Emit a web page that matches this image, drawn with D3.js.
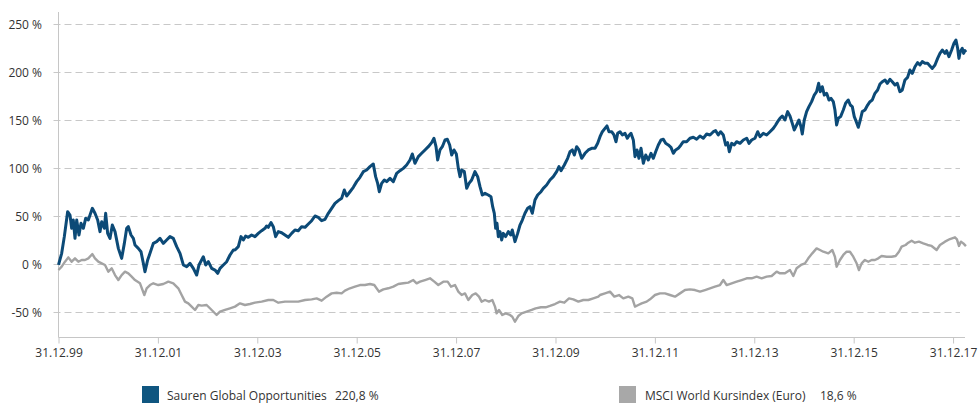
<!DOCTYPE html>
<html>
<head>
<meta charset="utf-8">
<script src="https://cdn.jsdelivr.net/npm/d3@7"></script>
<style>
  html, body { margin: 0; padding: 0; background: #fff; }
  svg { display: block; font-family: "Open Sans", "Noto Sans", sans-serif; }
</style>
</head>
<body>
<svg id="chart" width="979" height="403"></svg>
<script>
// Time in years since 31.12.1999, value in % performance
const sauren = [
[0,-1],[0.064,11.1],[0.117,28.5],[0.184,54.5],[0.231,51],[0.265,37.2],[0.298,45.8],[0.332,26.7],[0.366,45.8],[0.412,30.2],[0.453,42.4],[0.5,37.2],[0.547,47.6],[0.6,45.8],[0.681,58],[0.734,52.8],[0.788,45.8],[0.835,33.7],[0.869,44.1],[0.922,37.2],[0.949,52.8],[0.989,31.9],[1.036,26.7],[1.083,40.6],[1.137,33.7],[1.204,16.3],[1.271,5.9],[1.325,21.5],[1.372,37.2],[1.405,38.9],[1.459,30.2],[1.506,26.7],[1.539,19.8],[1.606,16.3],[1.66,12.8],[1.707,0.7],[1.74,-8],[1.794,4.2],[1.841,11.1],[1.908,21.5],[1.975,23.3],[2.042,26.7],[2.109,21.5],[2.176,25],[2.243,28.5],[2.31,26.7],[2.378,18.1],[2.445,11.1],[2.512,-1],[2.579,-2.8],[2.646,0.7],[2.713,-4.5],[2.78,-11.5],[2.827,-1],[2.914,7.6],[2.961,-1],[3.015,2.4],[3.082,-4.5],[3.149,-6.3],[3.203,-9.7],[3.25,-4.5],[3.317,-1],[3.384,2.4],[3.451,9.4],[3.518,14.6],[3.551,14.6],[3.618,18.1],[3.672,28.5],[3.719,25],[3.766,29.2],[3.819,27.8],[3.886,30.2],[3.953,28.5],[4.02,31.9],[4.088,34.7],[4.155,37.2],[4.188,39.6],[4.222,38.2],[4.275,43.1],[4.322,38.9],[4.369,28.5],[4.423,33.7],[4.49,32.6],[4.557,30.2],[4.624,27.8],[4.691,31.9],[4.758,35.4],[4.825,34.7],[4.892,38.9],[4.96,38.2],[5.027,41.7],[5.094,45.1],[5.161,50],[5.228,48.6],[5.295,45.1],[5.362,46.5],[5.429,52.8],[5.496,58],[5.563,63.2],[5.63,66],[5.697,68.4],[5.751,77.1],[5.798,70.8],[5.865,75.3],[5.932,79.9],[5.999,85.8],[6.066,90.3],[6.133,96.2],[6.2,97.9],[6.267,101.4],[6.334,104.2],[6.381,91],[6.422,84],[6.455,75.3],[6.502,84],[6.556,87.5],[6.603,85.8],[6.67,89.2],[6.737,85.8],[6.804,94.4],[6.871,97.2],[6.938,99.6],[7.005,103.1],[7.072,108.3],[7.119,114.6],[7.173,104.9],[7.24,111.8],[7.307,115.3],[7.374,118.8],[7.441,122.2],[7.508,126.4],[7.555,130.9],[7.596,122.2],[7.629,108.3],[7.676,118.8],[7.723,122.2],[7.777,129.2],[7.824,129.9],[7.871,124],[7.911,113.5],[7.958,118.8],[8.005,114.6],[8.045,99.6],[8.079,91],[8.112,97.9],[8.166,96.2],[8.213,78.8],[8.26,84],[8.313,87.5],[8.38,96.2],[8.434,91],[8.481,80.6],[8.528,71.9],[8.582,73.6],[8.648,71.9],[8.702,70.1],[8.736,59.7],[8.769,52.8],[8.796,37.2],[8.823,42.4],[8.85,28.5],[8.883,33.7],[8.917,25],[8.95,31.9],[8.997,28.5],[9.051,33.7],[9.098,30.2],[9.131,35.4],[9.185,23.3],[9.239,31.9],[9.286,40.6],[9.333,45.8],[9.386,52.8],[9.44,58],[9.487,59.7],[9.534,52.8],[9.587,66.7],[9.641,71.9],[9.708,75.3],[9.755,78.8],[9.822,82.3],[9.889,87.5],[9.956,91],[10.023,96.2],[10.07,101.4],[10.111,97.2],[10.178,103.1],[10.245,110.1],[10.292,117],[10.339,118.8],[10.379,113.5],[10.426,122.2],[10.473,118.8],[10.527,110.1],[10.594,115.3],[10.661,118.8],[10.728,120.5],[10.795,120.5],[10.849,125.7],[10.896,132.6],[10.943,137.8],[10.996,141.3],[11.036,143.8],[11.077,137.8],[11.13,137.8],[11.177,134.4],[11.218,127.4],[11.251,136.1],[11.298,137.8],[11.345,134.4],[11.399,136.1],[11.446,131],[11.486,134.4],[11.519,136.1],[11.566,129.2],[11.6,111.8],[11.64,118.8],[11.68,110.1],[11.721,120.5],[11.768,104.9],[11.815,113.5],[11.868,108.3],[11.922,115.3],[11.969,110.1],[12.016,117],[12.069,124],[12.123,129.2],[12.17,129.9],[12.217,125.7],[12.27,124],[12.324,121.5],[12.371,115.3],[12.418,118.8],[12.471,120.5],[12.525,124],[12.572,127.4],[12.639,127.4],[12.706,131],[12.773,132],[12.84,129.9],[12.907,133.3],[12.974,131],[13.042,135.4],[13.109,134.4],[13.176,137.8],[13.223,138.9],[13.276,134.4],[13.323,137.8],[13.377,134.4],[13.424,124],[13.464,126.4],[13.498,117],[13.545,125.7],[13.598,124],[13.645,127.4],[13.712,125.7],[13.78,129.2],[13.847,131],[13.894,125.7],[13.947,129.2],[14.014,131],[14.068,137.8],[14.115,132.6],[14.182,136.1],[14.249,134.4],[14.316,137.8],[14.383,141.3],[14.43,144.8],[14.47,148.3],[14.517,151.8],[14.564,154.2],[14.617,150],[14.671,158.7],[14.718,154.2],[14.765,146.5],[14.805,139.6],[14.852,144.8],[14.899,150],[14.939,143.1],[14.966,135.4],[15.006,150],[15.053,158.7],[15.1,163.9],[15.154,169.1],[15.207,176],[15.254,179.5],[15.295,188.2],[15.328,179.5],[15.368,184.7],[15.409,176],[15.456,177.8],[15.503,170.8],[15.543,172.6],[15.59,169.1],[15.623,160.4],[15.657,144.8],[15.69,151.8],[15.737,153.5],[15.791,160.4],[15.838,167.4],[15.891,170.8],[15.932,165.6],[15.972,163.9],[16.012,153.5],[16.052,148.3],[16.093,142.4],[16.133,150],[16.173,158.7],[16.227,160.4],[16.281,165.6],[16.328,169.1],[16.374,170.8],[16.428,177.8],[16.482,181.3],[16.529,187.5],[16.576,189.9],[16.63,191.7],[16.676,188.2],[16.73,192.4],[16.777,189.9],[16.831,186.5],[16.878,188.2],[16.931,179.5],[16.978,181.3],[17.032,191.7],[17.085,194.4],[17.132,202.1],[17.179,198.6],[17.233,205.5],[17.287,209.7],[17.334,207.3],[17.38,210.8],[17.434,209],[17.488,209],[17.535,206.3],[17.582,203.8],[17.636,207.3],[17.689,214.2],[17.736,219.4],[17.783,222.9],[17.837,219.4],[17.87,222.2],[17.917,216],[17.971,222.9],[18.018,229.9],[18.058,233.3],[18.092,224.7],[18.118,214.2],[18.145,221.2],[18.185,224.7],[18.212,219.4],[18.239,222.2],[18.259,220.8]
];
const msci = [
[0,-6.25],[0.064,-2.8],[0.131,2.4],[0.198,6.9],[0.265,2.4],[0.332,5.9],[0.399,2.4],[0.466,4.2],[0.533,4.2],[0.6,5.9],[0.681,10.4],[0.734,5.9],[0.801,2.4],[0.869,0.7],[0.936,-1],[1.003,-8],[1.07,-4.5],[1.137,-11.5],[1.204,-16.7],[1.271,-11.5],[1.338,-8],[1.405,-9.7],[1.472,-13.2],[1.539,-16.7],[1.64,-20.1],[1.727,-32.3],[1.774,-25.3],[1.841,-21.9],[1.908,-20.1],[2.008,-21.9],[2.109,-20.8],[2.21,-18.4],[2.31,-20.1],[2.411,-25.3],[2.478,-32.3],[2.545,-39.2],[2.612,-41],[2.679,-44.4],[2.747,-47.9],[2.814,-42.7],[2.881,-43.4],[2.981,-42.7],[3.082,-47.9],[3.182,-53.1],[3.249,-49.7],[3.35,-47.9],[3.451,-46.2],[3.551,-44.4],[3.652,-41],[3.752,-42.7],[3.853,-41.7],[3.953,-40.3],[4.088,-39.2],[4.222,-37.5],[4.322,-37.5],[4.423,-40.3],[4.557,-39.2],[4.691,-39.2],[4.825,-39.2],[4.96,-37.5],[5.094,-36.8],[5.194,-35.8],[5.295,-38.2],[5.395,-34],[5.496,-30.6],[5.597,-29.9],[5.697,-30.6],[5.764,-27.8],[5.865,-25.3],[5.965,-23.6],[6.066,-21.9],[6.167,-21.9],[6.267,-20.8],[6.354,-21.9],[6.448,-28.8],[6.536,-26.4],[6.636,-25.3],[6.737,-23.6],[6.837,-20.8],[6.938,-20.1],[7.039,-19.4],[7.139,-16.7],[7.206,-20.1],[7.274,-18.4],[7.374,-16.7],[7.475,-14.9],[7.562,-18.4],[7.642,-21.9],[7.743,-18.4],[7.83,-18.4],[7.897,-23.6],[7.978,-21.9],[8.045,-28.8],[8.112,-32.3],[8.179,-30.6],[8.246,-37.5],[8.326,-32.3],[8.394,-30.6],[8.461,-34],[8.514,-39.2],[8.582,-37.5],[8.662,-39.2],[8.729,-37.5],[8.783,-44.4],[8.816,-51.4],[8.863,-47.9],[8.93,-53.1],[8.997,-51.4],[9.084,-53.1],[9.131,-54.9],[9.185,-60.1],[9.252,-54.2],[9.319,-51.4],[9.42,-49.7],[9.52,-47.9],[9.601,-46.2],[9.708,-45.1],[9.802,-45.1],[9.889,-43.7],[9.99,-41.7],[10.09,-39.2],[10.178,-40.3],[10.272,-35.8],[10.359,-36.8],[10.46,-39.2],[10.56,-37.5],[10.661,-37.5],[10.761,-35.8],[10.862,-34],[10.896,-32.3],[10.996,-30.6],[11.097,-28.8],[11.184,-34],[11.278,-32.3],[11.365,-35.8],[11.466,-34],[11.546,-35.8],[11.6,-44.4],[11.667,-42.7],[11.734,-41],[11.835,-39.2],[11.902,-36.8],[12.002,-32.3],[12.103,-30.6],[12.203,-30.6],[12.304,-32.3],[12.405,-34],[12.505,-30.6],[12.606,-27.1],[12.706,-26.4],[12.807,-27.1],[12.908,-28.8],[13.008,-27.1],[13.109,-25.3],[13.209,-23.6],[13.31,-21.9],[13.377,-16.7],[13.444,-21.9],[13.545,-20.1],[13.645,-18.4],[13.746,-16.7],[13.847,-14.9],[13.947,-14.9],[14.048,-13.2],[14.149,-14.9],[14.249,-13.2],[14.35,-12.5],[14.45,-8],[14.517,-9.7],[14.617,-9.7],[14.718,-6.25],[14.785,-12.5],[14.852,-4.5],[14.939,-1],[15.02,0.7],[15.087,5.9],[15.167,11.1],[15.254,16.3],[15.322,14.6],[15.389,12.8],[15.489,11.1],[15.57,14.6],[15.623,7.6],[15.657,-2.8],[15.724,4.2],[15.791,9.4],[15.858,12.8],[15.925,12.8],[15.992,7.6],[16.059,0.7],[16.106,-6.25],[16.16,0.7],[16.227,4.2],[16.294,2.4],[16.361,4.2],[16.428,4.2],[16.495,5.9],[16.562,8.3],[16.663,7.6],[16.763,7.6],[16.844,8.3],[16.911,12.8],[16.965,18.1],[17.045,19.8],[17.099,22.2],[17.166,24.3],[17.233,22.2],[17.313,23.3],[17.4,21.5],[17.488,19.8],[17.568,18.8],[17.669,14.6],[17.736,19.8],[17.837,23.3],[17.937,26],[18.038,27.8],[18.078,25.7],[18.118,18.8],[18.159,23.3],[18.206,21.5],[18.259,18.6]
];
const yTicks = [-50, 0, 50, 100, 150, 200, 250];
const xTicks = [0, 2, 4, 6, 8, 10, 12, 14, 16, 18];
const xTickLabels = ["31.12.99","31.12.01","31.12.03","31.12.05","31.12.07","31.12.09","31.12.11","31.12.13","31.12.15","31.12.17"];
const seriesNames = ["Sauren Global Opportunities", "MSCI World Kursindex (Euro)"];
const seriesTotals = ["220,8 %", "18,6 %"];

const svg = d3.select("#chart");
const mLeft = 58.5, mRight = 965, mTop = 12, mBottom = 337;
const x = d3.scaleLinear().domain([0, 18.24]).range([mLeft, mRight]);
const y = d3.scaleLinear().domain([-76.04, 262.5]).range([mBottom, mTop]);
const axisCol = "#c6c6c6";

// gridlines
svg.append("g").selectAll("line").data(yTicks).join("line")
  .attr("x1", mLeft - 5).attr("x2", 960)
  .attr("y1", d => Math.round(y(d)) + 0.5).attr("y2", d => Math.round(y(d)) + 0.5)
  .attr("stroke", "#c8c8c8").attr("stroke-width", 1)
  .attr("stroke-dasharray", "7,4");

// y labels
svg.append("g").selectAll("text").data(yTicks).join("text")
  .attr("x", 42).attr("y", d => Math.round(y(d)) + 4.5)
  .attr("text-anchor", "end").attr("font-size", 12).attr("fill", "#333")
  .text(d => d + " %");

// x axis
const xAxis = d3.axisBottom(x).tickValues(xTicks).tickSize(6).tickPadding(5)
  .tickFormat((d, i) => xTickLabels[i]);
const gx = svg.append("g").attr("transform", `translate(0,${mBottom + 0.5})`).call(xAxis);
gx.select(".domain").attr("stroke", axisCol).attr("d", `M${mLeft},0H${mRight}`);
gx.selectAll(".tick line").attr("stroke", axisCol);
gx.selectAll(".tick text").attr("font-size", 12).attr("fill", "#333")
  .attr("font-family", "\"Open Sans\", sans-serif");

// y axis line
svg.append("line").attr("x1", mLeft).attr("x2", mLeft).attr("y1", mTop).attr("y2", mBottom + 0.5)
  .attr("stroke", axisCol).attr("stroke-width", 1);

const line = d3.line().x(d => x(d[0])).y(d => y(d[1]));
svg.append("path").datum(msci).attr("d", line)
  .attr("fill", "none").attr("stroke", "#a3a3a3").attr("stroke-width", 2.4).attr("stroke-linejoin", "round");
svg.append("path").datum(sauren).attr("d", line)
  .attr("fill", "none").attr("stroke", "#0c4a77").attr("stroke-width", 3).attr("stroke-linejoin", "round");

// legend
const legend = [
  {sx: 142, tx: 167, vx: 335, col: "#0f5680"},
  {sx: 619, tx: 645, vx: 820, col: "#a8a8a8"}
];
legend.forEach((l, i) => {
  svg.append("rect").attr("x", l.sx).attr("y", 386).attr("width", 17).attr("height", 17).attr("fill", l.col);
  svg.append("text").attr("x", l.tx).attr("y", 400).attr("font-size", 12).attr("fill", "#333").text(seriesNames[i]);
  svg.append("text").attr("x", l.vx).attr("y", 400).attr("font-size", 12).attr("fill", "#333").text(seriesTotals[i]);
});
</script>
</body>
</html>
